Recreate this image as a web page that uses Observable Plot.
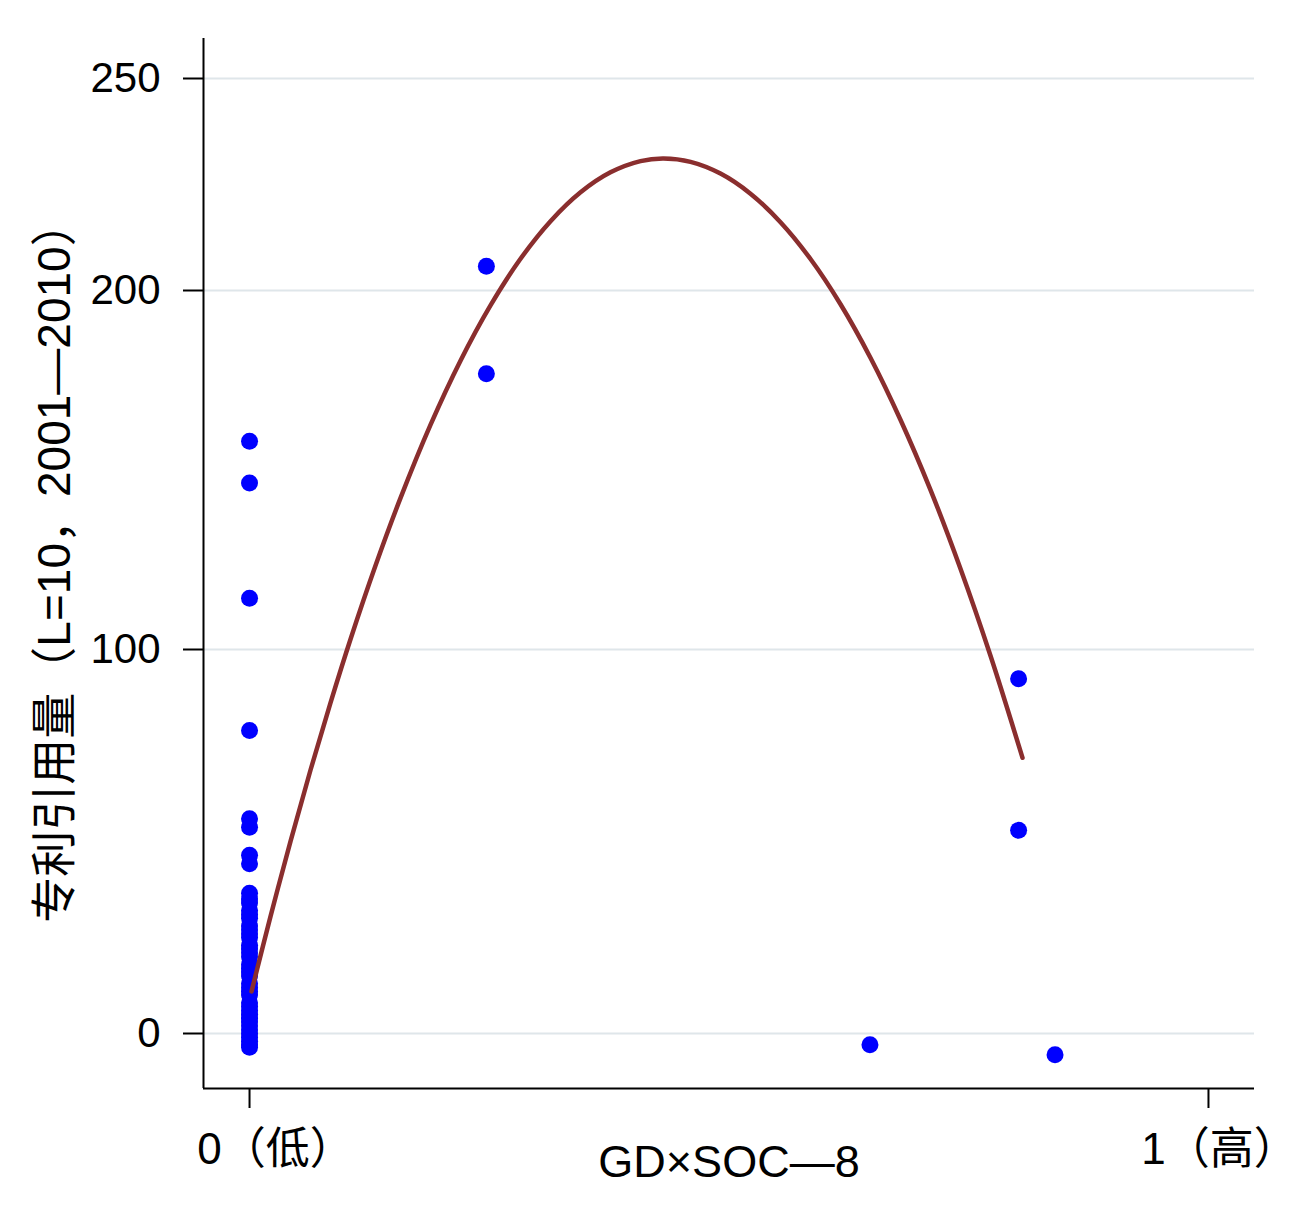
<!DOCTYPE html>
<html>
<head>
<meta charset="utf-8">
<script src="https://cdn.jsdelivr.net/npm/d3@7"></script>
<script src="https://cdn.jsdelivr.net/npm/@observablehq/plot@0.6"></script>
<style>
  html, body { margin: 0; padding: 0; background: #ffffff; }
  #chart { width: 1298px; height: 1212px; }
</style>
</head>
<body>
<div id="chart"></div>
<script>
// ---- data ----
const xTitle = "GD×SOC—8";
const yTitle = "专利引用量（L=10，2001—2010）";

const xTickValues = [0, 1];
const xTickLabels = ["0（低）", "1（高）"];
const yTickValues = [0, 100, 200, 250];

// scatter points: x (GD×SOC-8), y (patent citations)
const pointX = [
  0, 0, 0, 0, 0, 0, 0, 0,
  0, 0, 0, 0, 0, 0, 0, 0, 0, 0, 0, 0, 0, 0, 0, 0, 0, 0, 0, 0,
  0, 0, 0, 0, 0, 0, 0, 0, 0, 0, 0, 0, 0, 0, 0,
  0.247, 0.247, 0.647, 0.802, 0.802, 0.840
];
const pointY = [
  158, 146.4, 114.3, 78.9, 55.9, 53.7, 46.4, 44.2,
  36.5, 35, 34, 32, 31, 30, 28, 27, 26, 25, 23, 22, 21, 20, 18, 17, 16, 15, 13, 12,
  11, 10, 8, 7, 6, 5, 4, 3, 2, 1, 0, -1, -2, -3, -3.6,
  205.7, 176.8, -2.9, 92.4, 52.9, -5.5
];

// fitted (quadratic) curve, read along its path
const curveX = [0.0021, 0.0219, 0.0428, 0.0636, 0.0845, 0.1053, 0.1314, 0.1575, 0.1887, 0.2200,
                0.2513, 0.2826, 0.3139, 0.3452, 0.3764, 0.4077, 0.4317, 0.4599, 0.4911, 0.5224,
                0.5537, 0.5850, 0.6163, 0.6475, 0.6788, 0.7101, 0.7414, 0.7727, 0.8061];
const curveY = [10.96, 30.49, 50.08, 68.62, 86.17, 102.87, 123.40, 142.23, 162.56, 180.45,
                195.85, 207.48, 216.34, 223.16, 227.87, 230.52, 231.13, 230.33, 227.57, 222.83,
                216.11, 207.43, 196.18, 181.28, 164.01, 144.47, 122.51, 98.39, 71.80];

// ---- build tables ----
const points = pointX.map((x, i) => ({x, y: pointY[i]}));
const curve = curveX.map((x, i) => ({x, y: curveY[i]}));

const W = 1298, H = 1212;
const mL = 203, mR = 44, mT = 38, mB = 124;
const xDomain = [-0.048, 1.048];
// the reference's value axis is not evenly spaced between its ticks:
// a piecewise transform reproduces its tick spacing
const yBreaks = [-14.3, 0, 100, 200, 250, 259.4];
const yBreakPos = [0, 55, 439, 798, 1010, 1050];
const yWarp = d3.scaleLinear().domain(yBreaks).range(yBreakPos);

const font = '"Liberation Sans", Arial, "Noto Sans CJK SC", sans-serif';

const chart = Plot.plot({
  width: W,
  height: H,
  marginLeft: mL,
  marginRight: mR,
  marginTop: mT,
  marginBottom: mB,
  style: {fontFamily: font, fontSize: "40px", color: "#000", background: "#fff"},
  x: {domain: xDomain},
  y: {transform: (v) => yWarp(v), domain: [yBreakPos[0], yBreakPos[yBreakPos.length - 1]]},
  marks: [
    Plot.gridY(yTickValues, {stroke: "#dfe6ea", strokeOpacity: 1, strokeWidth: 2}),
    Plot.axisY(yTickValues, {tickSize: 20, tickPadding: 23, strokeWidth: 2, fontSize: 42, label: null, fontFamily: font}),
    Plot.axisX(xTickValues, {tickSize: 20, strokeWidth: 2, tickFormat: () => "", label: null}),
    Plot.axisX([xTickValues[0]], {tickSize: 0, tickPadding: 44, dx: 26, fontSize: 44, fontFamily: font,
      tickFormat: (d) => xTickLabels[xTickValues.indexOf(d)], label: null}),
    Plot.axisX([xTickValues[1]], {tickSize: 0, tickPadding: 44, dx: 11, fontSize: 44, fontFamily: font,
      tickFormat: (d) => xTickLabels[xTickValues.indexOf(d)], label: null}),
    Plot.ruleX([xDomain[0]], {stroke: "#000", strokeWidth: 2}),
    Plot.ruleY([yBreaks[0]], {stroke: "#000", strokeWidth: 2}),
    Plot.dot(points, {x: "x", y: "y", r: 8.5, fill: "#0000ff", stroke: "none"}),
    Plot.line(curve, {x: "x", y: "y", stroke: "#8a2e2e", strokeWidth: 4.5, curve: "catmull-rom"}),
    Plot.text([xTitle], {frameAnchor: "bottom", dy: 88, fontSize: 45, fontFamily: font, fill: "#000", textAnchor: "middle"}),
    Plot.text([yTitle], {frameAnchor: "left", dx: -148, dy: -2, rotate: -90, textAnchor: "middle", fontSize: 46, fontFamily: font, fill: "#000"})
  ]
});
document.getElementById("chart").appendChild(chart);
</script>
</body>
</html>
